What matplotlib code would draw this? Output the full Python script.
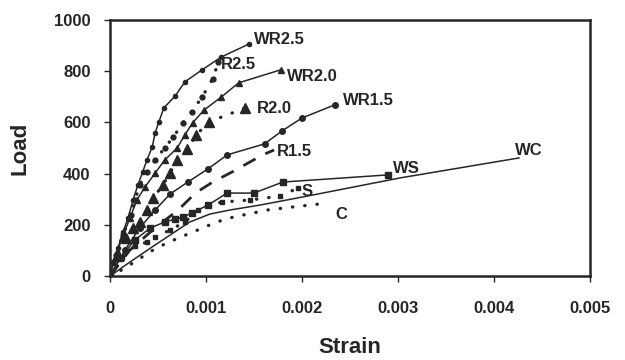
import numpy as np
import matplotlib.pyplot as plt

plt.rcParams['font.family'] = ['Liberation Sans', 'DejaVu Sans']
plt.rcParams['font.weight'] = 'bold'

# Load-strain curves (strain, load)
wr25_strain = [0, 0.000031, 0.000083, 0.000135, 0.000188, 0.00024, 0.00029, 0.00034, 0.000385,
               0.00044, 0.00047, 0.00051, 0.00056, 0.00068, 0.00078, 0.00096, 0.00116, 0.00145]
wr25_load = [0, 55, 109, 172, 227, 297, 355, 406, 453, 504, 559, 602, 656, 703, 758, 805, 855, 906]

r25_strain = [0, 0.0000625, 0.000135, 0.00022, 0.00026, 0.00031, 0.000385, 0.00047, 0.00057,
              0.00066, 0.00076, 0.00085, 0.00096, 0.00107, 0.00113]
r25_load = [0, 82, 160, 238, 297, 355, 406, 453, 500, 543, 598, 641, 699, 770, 836]

wr20_strain = [0, 0.000052, 0.000125, 0.000208, 0.00028, 0.000365, 0.00047, 0.00057, 0.0007,
               0.00078, 0.00086, 0.00098, 0.00116, 0.00134, 0.00178]
wr20_load = [0, 70, 148, 227, 297, 348, 402, 453, 500, 551, 598, 648, 699, 754, 805]

r20_strain = [0, 0.000083, 0.000167, 0.00024, 0.00031, 0.000385, 0.00045, 0.00055, 0.000625,
              0.0007, 0.0008, 0.0009, 0.00103, 0.00141]
r20_load = [0, 82, 148, 188, 211, 258, 305, 355, 402, 453, 496, 551, 602, 656]

wr15_strain = [0, 0.000156, 0.00031, 0.00047, 0.000625, 0.00081, 0.00102, 0.00122, 0.00161,
               0.00179, 0.002, 0.00234]
wr15_load = [0, 102, 188, 258, 320, 367, 418, 473, 516, 566, 617, 668]

r15_strain = [0, 0.000208, 0.00047, 0.00071, 0.00089, 0.00107, 0.00127, 0.00159, 0.00171]
r15_load = [0, 102, 188, 258, 324, 367, 406, 473, 492]

ws_strain = [0, 0.000104, 0.00026, 0.00042, 0.00057, 0.00068, 0.00076, 0.00085, 0.00102,
             0.00122, 0.0015, 0.0018, 0.0029]
ws_load = [0, 70, 141, 188, 211, 223, 230, 246, 277, 324, 324, 367, 395]

s_strain = [0, 0.000125, 0.00026, 0.000385, 0.00047, 0.000625, 0.00078, 0.00092, 0.00102,
            0.00117, 0.00146, 0.00177, 0.00196]
s_load = [0, 70, 117, 133, 152, 180, 211, 258, 277, 289, 297, 312, 344]

wc_strain = [0, 0.000208, 0.00042, 0.000625, 0.00083, 0.00104, 0.00125, 0.00156, 0.00201,
             0.00302, 0.00426]
wc_load = [0, 55, 109, 160, 211, 242, 258, 277, 309, 383, 461]

c_strain = [0, 0.000156, 0.00028, 0.00045, 0.00059, 0.00076, 0.00094, 0.00111, 0.00128,
            0.00164, 0.00191, 0.00227]
c_load = [0, 31, 62, 102, 129, 156, 184, 211, 230, 258, 270, 285]

labels = ['WR2.5', 'R2.5', 'WR2.0', 'R2.0', 'WR1.5', 'R1.5', 'WS', 'S', 'C', 'WC']
label_pos = [(0.00150, 925), (0.00116, 825), (0.00184, 780), (0.00153, 655), (0.00243, 685),
             (0.00174, 488), (0.00295, 420), (0.00199, 330), (0.00235, 240), (0.00422, 490)]

ink = '#262626'
dot = (0, (0.1, 3.6))
fig = plt.figure(figsize=(6.25, 3.6), dpi=100)
ax = fig.add_axes([0.176, 0.233, 0.768, 0.712])

ax.plot(wr25_strain, wr25_load, '-', color=ink, lw=1.1, marker='o', ms=3)
ax.plot(r25_strain, r25_load, linestyle=dot, color=ink, lw=2.4, dash_capstyle='round',
        marker='o', ms=3.5)
ax.plot(wr20_strain, wr20_load, '-', color=ink, lw=1.1, marker='^', ms=5)
ax.plot(r20_strain, r20_load, linestyle=dot, color=ink, lw=2.4, dash_capstyle='round',
        marker='^', ms=6.5)
ax.plot(wr15_strain, wr15_load, '-', color=ink, lw=1.1, marker='o', ms=4)
ax.plot(r15_strain, r15_load, color=ink, lw=2, dashes=(5, 4))
ax.plot(ws_strain, ws_load, '-', color=ink, lw=1.1, marker='s', ms=4)
ax.plot(s_strain, s_load, linestyle=dot, color=ink, lw=2.4, dash_capstyle='round',
        marker='s', ms=3)
ax.plot(wc_strain, wc_load, '-', color=ink, lw=1.1)
ax.plot(c_strain, c_load, linestyle=dot, color=ink, lw=2.4, dash_capstyle='round')

for lab, (x, y) in zip(labels, label_pos):
    ax.text(x, y, lab, fontsize=12, fontweight='bold', color=ink, va='center', ha='left')

ax.set_xlim(0, 0.005)
ax.set_ylim(0, 1000)
ax.set_xticks([0, 0.001, 0.002, 0.003, 0.004, 0.005])
ax.set_xticklabels(['0', '0.001', '0.002', '0.003', '0.004', '0.005'])
ax.set_yticks([0, 200, 400, 600, 800, 1000])
ax.tick_params(axis='both', direction='out', length=4, width=1, color=ink,
               labelsize=12, labelcolor=ink)
ax.tick_params(axis='x', pad=14)
ax.tick_params(axis='y', pad=10)
for sp in ax.spines.values():
    sp.set_linewidth(1.8)
    sp.set_color(ink)

ax.set_xlabel('Strain', fontsize=16, fontweight='bold', color=ink, labelpad=15)
ax.set_ylabel('Load', fontsize=16, fontweight='bold', color=ink, labelpad=17)

fig.savefig('out.png', dpi=100)
